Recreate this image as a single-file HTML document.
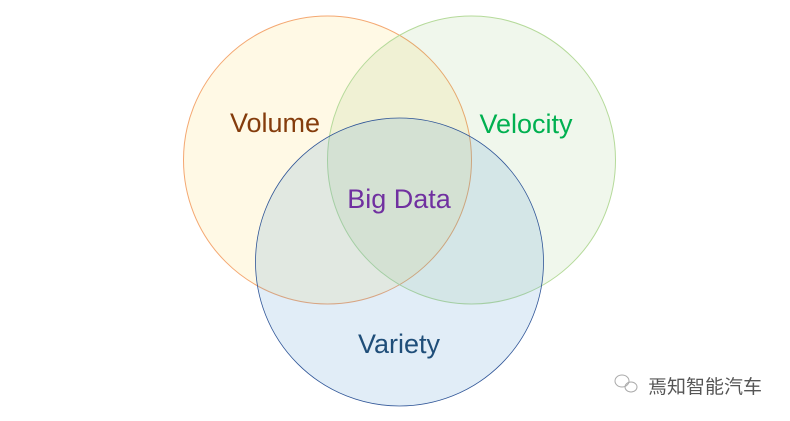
<!DOCTYPE html>
<html><head><meta charset="utf-8"><style>
html,body{margin:0;padding:0;background:#fff;width:790px;height:421px;overflow:hidden}
</style></head><body>
<svg width="790" height="421" viewBox="0 0 790 421" xmlns="http://www.w3.org/2000/svg">
<circle cx="327.5" cy="160" r="144" fill="#ffc000" fill-opacity="0.1" stroke="#f4a872" stroke-width="1"/>
<circle cx="471.5" cy="160" r="144" fill="#70ad47" fill-opacity="0.1" stroke="#b5da9a" stroke-width="1"/>
<circle cx="399.5" cy="262" r="144" fill="#5b9bd5" fill-opacity="0.18" stroke="#2f5597" stroke-width="0.8"/>
<g font-family="'Liberation Sans', sans-serif" font-size="27" text-anchor="middle">
<text x="275" y="132" fill="#843c0c">Volume</text>
<text x="526" y="133" fill="#00b050">Velocity</text>
<text x="399" y="208" fill="#7030a0">Big Data</text>
<text x="399" y="353" fill="#1f4e79">Variety</text>
</g>
<g fill="none" stroke="#aaa" stroke-width="1">
<ellipse cx="622" cy="381" rx="7" ry="6"/>
<ellipse cx="631" cy="387" rx="6" ry="5"/>
</g>
<text x="648" y="393" font-family="'Liberation Sans','Noto Sans CJK SC',sans-serif" font-size="19" fill="#555">焉知智能汽车</text>
</svg>
</body></html>
